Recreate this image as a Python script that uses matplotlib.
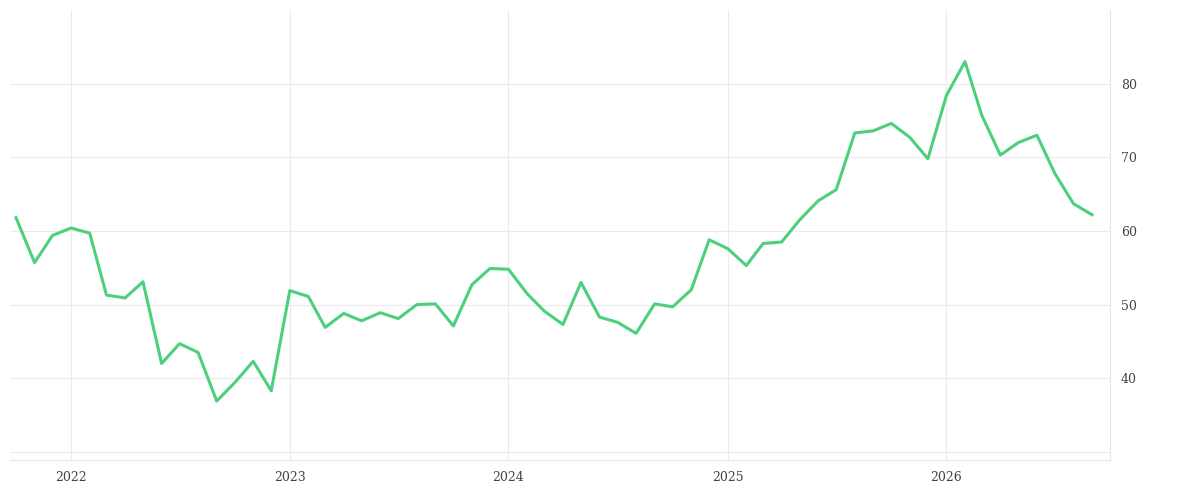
import numpy as np
import pandas as pd
import matplotlib
matplotlib.use("Agg")
import matplotlib.pyplot as plt
import matplotlib.dates as mdates

# monthly values, Oct 2021 .. Sep 2026
dates = pd.date_range("2021-10-01", periods=60, freq="MS")
values = [61.8, 55.7, 59.4, 60.4, 59.7, 51.3, 50.9, 53.1, 42.0, 44.7,
          43.5, 36.9, 39.4, 42.3, 38.3, 51.9, 51.1, 46.9, 48.8, 47.8,
          48.9, 48.1, 50.0, 50.1, 47.1, 52.7, 54.9, 54.8, 51.5, 49.1,
          47.3, 53.0, 48.3, 47.6, 46.1, 50.1, 49.7, 52.0, 58.8, 57.6,
          55.3, 58.3, 58.5, 61.5, 64.1, 65.6, 73.3, 73.6, 74.6, 72.7,
          69.8, 78.4, 83.0, 75.7, 70.3, 72.0, 73.0, 67.8, 63.7, 62.2]

fig = plt.figure(figsize=(12, 5), dpi=100)
ax = fig.add_axes([10 / 1200, 40 / 500, 1100 / 1200, 450 / 500])
ax.plot(dates, values, color="#4cd07d", lw=2.2, zorder=3)

ax.set_ylim(28.9, 90)
ax.set_xlim(pd.Timestamp("2021-09-21"), pd.Timestamp("2026-10-01"))
ax.set_yticks([30, 40, 50, 60, 70, 80])
ax.set_yticklabels(["", "40", "50", "60", "70", "80"])
ax.xaxis.set_major_locator(mdates.YearLocator())
ax.xaxis.set_major_formatter(mdates.DateFormatter("%Y"))
ax.yaxis.tick_right()
ax.grid(True, color="#ebebeb", lw=0.8)
for s in ["top", "left"]:
    ax.spines[s].set_visible(False)
ax.spines["right"].set_color("#e6e6e6")
ax.spines["bottom"].set_color("#e6e6e6")
ax.tick_params(length=0, labelsize=9, colors="#444444", pad=8)
for lab in ax.get_xticklabels() + ax.get_yticklabels():
    lab.set_family("DejaVu Serif")

fig.savefig("out.png", dpi=100)
